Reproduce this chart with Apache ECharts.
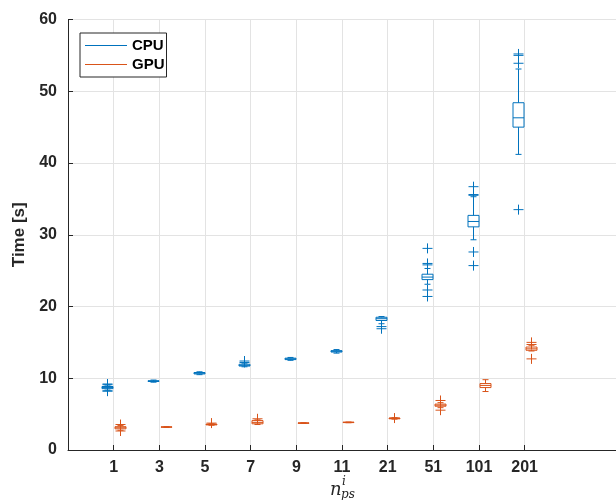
<!DOCTYPE html>
<html>
<head>
<meta charset="utf-8">
<script src="https://cdn.jsdelivr.net/npm/echarts@6/dist/echarts.min.js"></script>
<style>
  html, body { margin: 0; padding: 0; background: #fff; }
  #main { width: 616px; height: 500px; }
</style>
</head>
<body>
<div id="main"></div>
<script>
var categories = ['1', '3', '5', '7', '9', '11', '21', '51', '101', '201'];

// [min, q1, median, q3, max]
var cpuBoxes = [
  [8.35, 8.55, 8.7, 8.85, 9.05],
  [9.45, 9.55, 9.6, 9.65, 9.75],
  [10.5, 10.6, 10.7, 10.8, 10.9],
  [11.6, 11.7, 11.8, 11.95, 12.1],
  [12.5, 12.6, 12.7, 12.8, 12.9],
  [13.5, 13.65, 13.75, 13.85, 14.0],
  [17.6, 18.05, 18.3, 18.5, 18.6],
  [23.1, 23.75, 24.1, 24.5, 25.3],
  [29.3, 31.1, 31.85, 32.7, 35.3],
  [41.2, 45.0, 46.3, 48.4, 53.1]
];
var gpuBoxes = [
  [2.75, 2.95, 3.1, 3.25, 3.4],
  [3.15, 3.18, 3.2, 3.22, 3.25],
  [3.45, 3.5, 3.55, 3.6, 3.65],
  [3.55, 3.65, 3.85, 4.1, 4.2],
  [3.7, 3.72, 3.75, 3.78, 3.8],
  [3.8, 3.82, 3.85, 3.88, 3.9],
  [4.3, 4.35, 4.4, 4.45, 4.5],
  [5.9, 6.1, 6.25, 6.4, 6.6],
  [8.15, 8.7, 9.0, 9.26, 9.8],
  [13.8, 13.9, 14.1, 14.35, 14.6]
];
var cpuOutliers = [
  [9.2, 9.1, 8.25, 8.2],
  [],
  [],
  [12.4, 12.2],
  [],
  [],
  [17.2, 16.9],
  [28.1, 26.0, 25.8, 22.3, 21.4],
  [36.7, 35.6, 35.5, 27.6, 25.7],
  [55.2, 55.0, 53.9, 33.5]
];
var gpuOutliers = [
  [3.55, 2.65],
  [],
  [3.75],
  [4.35],
  [],
  [],
  [4.45],
  [6.9, 5.55],
  [],
  [15.0, 14.7, 12.7]
];

var axisColor = '#262626';
var gridColor = '#e3e3e3';
var cpuColor = '#0072BD';
var gpuColor = '#D95319';

var xData = [''].concat(categories, ['', '']);

function boxData(boxes) {
  return boxes.map(function (b, i) { return [i + 1].concat(b); });
}
function outlierData(lists) {
  var out = [];
  lists.forEach(function (list, i) {
    list.forEach(function (v) { out.push([i + 1, v]); });
  });
  return out;
}

function boxRenderer(offset) {
  return function (params, api) {
    var x = api.value(0);
    var pMin = api.coord([x, api.value(1)]);
    var pQ1 = api.coord([x, api.value(2)]);
    var pMed = api.coord([x, api.value(3)]);
    var pQ3 = api.coord([x, api.value(4)]);
    var pMax = api.coord([x, api.value(5)]);
    var cx = Math.round(pMin[0] + offset) + 0.5;
    var hw = 5.5, cw = 3;
    var st = { stroke: api.visual('color'), lineWidth: 1, fill: 'none' };
    return {
      type: 'group',
      children: [
        { type: 'line', shape: { x1: cx, y1: pMax[1], x2: cx, y2: pQ3[1] }, style: st },
        { type: 'line', shape: { x1: cx, y1: pQ1[1], x2: cx, y2: pMin[1] }, style: st },
        { type: 'line', shape: { x1: cx - cw, y1: pMax[1], x2: cx + cw, y2: pMax[1] }, style: st },
        { type: 'line', shape: { x1: cx - cw, y1: pMin[1], x2: cx + cw, y2: pMin[1] }, style: st },
        { type: 'rect', shape: { x: cx - hw, y: pQ3[1], width: hw * 2, height: pQ1[1] - pQ3[1] }, style: st },
        { type: 'line', shape: { x1: cx - hw, y1: pMed[1], x2: cx + hw, y2: pMed[1] }, style: st }
      ]
    };
  };
}

function plusRenderer(offset) {
  return function (params, api) {
    var p = api.coord([api.value(0), api.value(1)]);
    var cx = Math.round(p[0] + offset) + 0.5;
    var cy = p[1];
    var s = 5;
    var st = { stroke: api.visual('color'), lineWidth: 1 };
    return {
      type: 'group',
      children: [
        { type: 'line', shape: { x1: cx - s, y1: cy, x2: cx + s, y2: cy }, style: st },
        { type: 'line', shape: { x1: cx, y1: cy - s, x2: cx, y2: cy + s }, style: st }
      ]
    };
  };
}

var chart = echarts.init(document.getElementById('main'));

var labelFont = { color: axisColor, fontSize: 16, fontWeight: 'bold', fontFamily: 'Liberation Sans' };

chart.setOption({
  animation: false,
  backgroundColor: '#fff',
  grid: { left: 68, top: 19.5, width: 551, bottom: 50, containLabel: false },
  legend: {
    orient: 'vertical',
    left: 80,
    top: 33,
    data: [
      { name: 'CPU', icon: 'rect' },
      { name: 'GPU', icon: 'rect' }
    ],
    itemWidth: 42,
    itemHeight: 1,
    itemGap: 2,
    itemTextGap: 5,
    padding: [4, 2, 4, 5],
    borderColor: axisColor,
    borderWidth: 1,
    backgroundColor: '#fff',
    textStyle: { color: '#000', fontSize: 15, fontWeight: 'bold', fontFamily: 'Liberation Sans', lineHeight: 17 }
  },
  xAxis: {
    type: 'category',
    data: xData,
    boundaryGap: false,
    axisLine: { lineStyle: { color: axisColor, width: 1 } },
    axisTick: {
      inside: true, length: 5,
      interval: function (i, v) { return v !== ''; },
      lineStyle: { color: axisColor }
    },
    axisLabel: Object.assign({ margin: 10, interval: function (i, v) { return v !== ''; } }, labelFont),
    splitLine: {
      show: true,
      interval: function (i, v) { return v !== ''; },
      lineStyle: { color: gridColor, width: 1 }
    }
  },
  yAxis: {
    type: 'value',
    min: 0,
    max: 60,
    interval: 10,
    name: 'Time [s]',
    nameLocation: 'middle',
    nameGap: 36,
    nameTextStyle: { color: axisColor, fontSize: 17, fontWeight: 'bold', fontFamily: 'Liberation Sans' },
    axisLine: { show: true, lineStyle: { color: axisColor, width: 1 } },
    axisTick: { show: true, inside: true, length: 5, lineStyle: { color: axisColor } },
    axisLabel: Object.assign({ margin: 11 }, labelFont),
    splitLine: { show: true, lineStyle: { color: gridColor, width: 1 } }
  },
  graphic: [
    { type: 'text', x: 330, y: 490, style: { text: 'n', fill: axisColor, font: 'italic 18px "DejaVu Serif"', verticalAlign: 'middle' } },
    { type: 'text', x: 342, y: 482, style: { text: 'i', fill: axisColor, font: 'italic 12px "DejaVu Serif"', verticalAlign: 'middle' } },
    { type: 'text', x: 341, y: 495, style: { text: 'ps', fill: axisColor, font: 'italic 12px "DejaVu Serif"', verticalAlign: 'middle' } }
  ],
  series: [
    {
      name: 'CPU', type: 'custom', itemStyle: { color: cpuColor },
      renderItem: boxRenderer(-6.5), encode: { x: 0, y: [1, 2, 3, 4, 5] },
      data: boxData(cpuBoxes), z: 3
    },
    {
      name: 'GPU', type: 'custom', itemStyle: { color: gpuColor },
      renderItem: boxRenderer(6.3), encode: { x: 0, y: [1, 2, 3, 4, 5] },
      data: boxData(gpuBoxes), z: 3
    },
    {
      name: 'CPU outliers', type: 'custom', itemStyle: { color: cpuColor },
      renderItem: plusRenderer(-6.5), encode: { x: 0, y: 1 },
      data: outlierData(cpuOutliers), z: 3
    },
    {
      name: 'GPU outliers', type: 'custom', itemStyle: { color: gpuColor },
      renderItem: plusRenderer(6.3), encode: { x: 0, y: 1 },
      data: outlierData(gpuOutliers), z: 3
    }
  ]
});
</script>
</body>
</html>
